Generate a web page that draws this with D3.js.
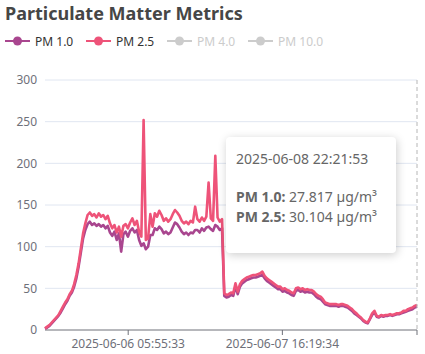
<!DOCTYPE html>
<html>
<head>
<meta charset="utf-8">
<script src="https://cdn.jsdelivr.net/npm/d3@7"></script>
<style>
  body { margin: 0; background: #fff; font-family: "Noto Sans", "Open Sans", sans-serif; }
  #chart-container { position: relative; width: 425px; height: 354px; }
  .tip {
    position: absolute; background: #fff; border-radius: 4px;
    box-shadow: 1px 2px 10px rgba(0,0,0,0.2);
    color: #666; font-size: 14px; line-height: 20px;
  }
</style>
</head>
<body>
<div id="chart-container"></div>
<script>

// sampled every 30 minutes, last sample 2025-06-08 22:21:53
const lastSample = new Date(2025, 5, 8, 22, 21, 53);
const stepMinutes = 30;

const pm25 = [
    2, 4, 6, 9, 12, 15, 18, 23, 28, 33, 37, 43, 47, 55, 66, 80, 98, 116, 128, 138,
    141, 137, 139, 135, 140, 136, 138, 133, 137, 128, 122, 126, 117, 124, 112, 125, 127, 122, 129, 134,
    126, 131, 118, 112, 252, 108, 110, 139, 124, 140, 136, 143, 138, 131, 134, 130, 133, 139, 144, 141,
    137, 131, 128, 130, 127, 131, 129, 148, 133, 130, 135, 131, 136, 177, 134, 131, 209, 135, 130, 133,
    44, 42, 43, 45, 44, 56, 46, 55, 59, 61, 63, 64, 65, 66, 66, 67, 68, 70, 65, 62,
    60, 58, 56, 54, 52, 52, 49, 50, 48, 47, 45, 44, 50, 51, 49, 50, 48, 49, 48, 48,
    46, 43, 41, 40, 37, 33, 32, 31, 31, 31, 31, 30, 31, 31, 30, 29, 27, 25, 22, 20,
    17, 15, 12, 10, 9, 14, 20, 23, 17, 16, 18, 17, 18, 18, 19, 18, 19, 20, 20, 21,
    23, 23, 25, 26, 27, 29, 30.104
];

const pm10 = [
    1.5, 3, 5, 8, 11, 14, 17, 21, 26, 31, 35, 41, 45, 52, 62, 76, 93, 110, 120, 127,
    130, 126, 128, 125, 127, 124, 126, 122, 125, 117, 113, 118, 108, 116, 94, 115, 118, 112, 119, 122,
    117, 120, 108, 101, 104, 97, 100, 114, 114, 122, 120, 124, 121, 116, 118, 115, 117, 123, 129, 127,
    123, 118, 115, 117, 114, 117, 116, 120, 120, 117, 122, 119, 123, 124, 121, 119, 126, 124, 120, 122,
    41, 39, 40, 42, 41, 52, 43, 52, 56, 58, 60, 61, 62, 63, 63, 64, 65, 66, 62, 59,
    57, 55, 53, 51, 49, 49, 46, 47, 45, 44, 42, 41, 47, 48, 46, 47, 45, 46, 45, 45,
    43, 40, 38, 37, 34, 31, 30, 29, 29, 29, 29, 28, 29, 29, 28, 27, 25, 23, 20, 18,
    16, 14, 11, 9, 8, 13, 18, 21, 16, 15, 17, 16, 17, 17, 18, 17, 18, 19, 19, 20,
    21, 22, 23, 24, 25, 27, 27.817
];

const seriesNames = ["PM 1.0", "PM 2.5", "PM 4.0", "PM 10.0"];
const seriesColors = ["#a9468f", "#ee5379", "#cccccc", "#cccccc"];
const yTicks = [0, 50, 100, 150, 200, 250, 300];
const xTickTimes = [new Date(2025, 5, 6, 5, 55, 33), new Date(2025, 5, 7, 16, 19, 34)];

const fmt = d3.timeFormat("%Y-%m-%d %H:%M:%S");
const times = pm25.map((v, i) => new Date(lastSample - (pm25.length - 1 - i) * stepMinutes * 60000));

const svgWidth = 425, svgHeight = 354;
const margin = { top: 80, right: 8, bottom: 24, left: 45 };
const width = svgWidth - margin.left - margin.right;
const height = svgHeight - margin.top - margin.bottom;

const container = d3.select("#chart-container");
const svg = container.append("svg")
    .attr("width", svgWidth)
    .attr("height", svgHeight);

svg.append("text")
    .attr("x", 5)
    .attr("y", 20)
    .attr("font-size", "18px")
    .attr("font-weight", "bold")
    .attr("fill", "#464646")
    .text("Particulate Matter Metrics");

// legend
const legendX = [5, 86, 167, 248];
seriesNames.forEach(function(name, i) {
    const g = svg.append("g").attr("transform", `translate(${legendX[i]},41)`);
    g.append("line").attr("x1", 0).attr("x2", 25).attr("stroke", seriesColors[i]).attr("stroke-width", 2);
    g.append("circle").attr("cx", 12.5).attr("r", 4.5).attr("fill", seriesColors[i]);
    g.append("text").attr("x", 30).attr("y", 4.5).attr("font-size", "12px")
        .attr("fill", i < 2 ? "#333" : "#ccc").text(name);
});

const chart = svg.append("g")
    .attr("transform", `translate(${margin.left},${margin.top})`);

const scaleX = d3.scaleTime()
    .domain([times[0], times[times.length - 1]])
    .range([0, width]);

const scaleY = d3.scaleLinear()
    .domain([0, 300])
    .range([height, 0]);

// grid lines + y labels
yTicks.forEach(function(t) {
    if (t > 0) {
        chart.append("line")
            .attr("x1", 0).attr("x2", width)
            .attr("y1", scaleY(t)).attr("y2", scaleY(t))
            .attr("stroke", "#e0e6f1");
    }
    chart.append("text")
        .attr("x", -8)
        .attr("y", scaleY(t))
        .attr("dy", "0.35em")
        .attr("text-anchor", "end")
        .attr("font-size", "12px")
        .attr("fill", "#6e7079")
        .text(t);
});

// x axis
chart.append("line")
    .attr("x1", 0).attr("x2", width)
    .attr("y1", height).attr("y2", height)
    .attr("stroke", "#6e7079");

xTickTimes.concat([times[times.length - 1]]).forEach(function(t, i) {
    const x = scaleX(t);
    chart.append("line")
        .attr("x1", x).attr("x2", x)
        .attr("y1", height).attr("y2", height + 5)
        .attr("stroke", "#6e7079");
    if (i < xTickTimes.length) {
        chart.append("text")
            .attr("x", x)
            .attr("y", height + 18)
            .attr("text-anchor", "middle")
            .attr("font-size", "12px")
            .attr("fill", "#6e7079")
            .text(fmt(t));
    }
});

const lineGen = d3.line()
    .x((d, i) => scaleX(times[i]))
    .y(d => scaleY(d));

[pm10, pm25].forEach(function(values, i) {
    chart.append("path")
        .datum(values)
        .attr("fill", "none")
        .attr("stroke", seriesColors[i])
        .attr("stroke-width", 2.6)
        .attr("stroke-linejoin", "round")
        .attr("d", lineGen);
});

// hover pointer at the last sample
const last = times.length - 1;
chart.append("line")
    .attr("x1", scaleX(times[last])).attr("x2", scaleX(times[last]))
    .attr("y1", 0).attr("y2", height)
    .attr("stroke", "#b6b6b6")
    .attr("stroke-dasharray", "4,3");

container.append("div")
    .attr("class", "tip")
    .style("left", "226px")
    .style("top", "137px")
    .style("width", "150px")
    .style("padding", "12px 10px 26px 10px")
    .html(`<div>${fmt(times[last])}</div><div style="height:18px"></div>` +
        `<div><b>PM 1.0:</b> ${pm10[last].toFixed(3)} \u00b5g/m\u00b3</div>` +
        `<div><b>PM 2.5:</b> ${pm25[last].toFixed(3)} \u00b5g/m\u00b3</div>`);

</script>
</body>
</html>
